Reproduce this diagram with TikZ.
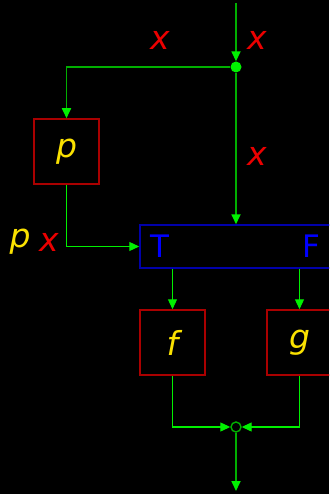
\documentclass[tikz,border=0pt]{standalone}
\usepackage{fontspec}
\setmainfont{DejaVu Sans}
\usetikzlibrary{arrows.meta, positioning}

\definecolor{wiregreen}{RGB}{0,175,0}
\definecolor{leadgreen}{RGB}{0,240,0}
\definecolor{boxred}{RGB}{170,0,0}
\definecolor{varred}{RGB}{235,0,0}
\definecolor{fnyellow}{RGB}{250,225,0}
\definecolor{condblue}{RGB}{0,0,170}

\tikzset{
  fnbox/.style={draw=boxred, line width=1.5pt, minimum size=65pt, inner sep=0pt,
    text=fnyellow, font=\fontsize{33}{36}\selectfont\itshape},
  condbox/.style={draw=condblue, line width=1.5pt, minimum width=192pt, minimum height=43pt, inner sep=0pt},
  condlabel/.style={text=blue, font=\fontsize{31}{34}\selectfont},
  varlabel/.style={text=varred, font=\fontsize{33}{36}\selectfont\itshape},
  fnlabel/.style={text=fnyellow, font=\fontsize{33}{36}\selectfont\itshape},
  wire/.style={draw=wiregreen, line width=1.7pt, -{Triangle[length=10pt,width=9pt,color=leadgreen]}},
  lead/.style={draw=leadgreen, line width=1.2pt, -{Triangle[length=10pt,width=9pt]}},
}

\begin{document}
\begin{tikzpicture}[x=1pt, y=-1pt]
    % background and page size
    \fill[black] (0,0) rectangle (329,494);
    \useasboundingbox (0,0) rectangle (329,494);
    \clip (0,0) rectangle (329,494);
    % split point and merge point
    \coordinate (in) at (236,3);
    \node[circle, fill=leadgreen, inner sep=0pt, minimum size=11pt] (split) at (236,67) {};
    \node[circle, draw=wiregreen, line width=1.4pt, inner sep=0pt, minimum size=10pt] (merge) at (236,427) {};
    \coordinate (out) at (236,491);
    % boxes
    \node[fnbox] (pbox) at (66.5,151.5) {p};
    \node[condbox] (cond) at (236,246.5) {};
    \node[condlabel] (tlabel) at (160,246) {T};
    \node[condlabel] (flabel) at (311,246) {F};
    \node[fnbox] (fbox) at (172.5,342.5) {f};
    \node[fnbox] (gbox) at (299.5,342.5) {g};
    % labels
    \node[varlabel] (xleft) at (160,40) {x};
    \node[varlabel] (xright) at (257,40) {x};
    \node[varlabel] (xmid) at (257,156) {x};
    \node[fnlabel] (plabel) at (20,242) {p};
    \node[varlabel] (xpair) at (49,242) {x};
    % connectors
    \draw[wire] (in) -- (split);
    \draw[wire] (split) -| (pbox.north);
    \draw[wire] (split) -- (cond.north);
    \draw[lead] (pbox.south) |- (cond.west);
    \draw[lead] (fbox.north |- cond.south) -- (fbox.north);
    \draw[lead] (gbox.north |- cond.south) -- (gbox.north);
    \draw[lead] (fbox.south) |- (merge.west);
    \draw[lead] (gbox.south) |- (merge.east);
    \draw[wire] (merge) -- (out);
\end{tikzpicture}
\end{document}
